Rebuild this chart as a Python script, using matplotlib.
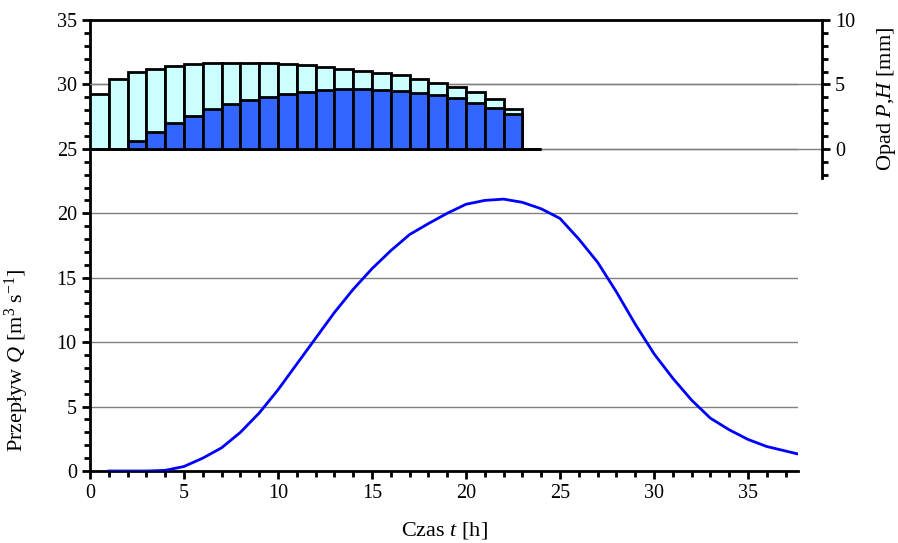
import numpy as np
import matplotlib
matplotlib.use('Agg')
import matplotlib.pyplot as plt
from matplotlib.ticker import MultipleLocator

plt.rcParams['font.family'] = ['Liberation Serif', 'DejaVu Serif']
plt.rcParams['mathtext.fontset'] = 'custom'
plt.rcParams['mathtext.rm'] = 'Liberation Serif'
plt.rcParams['mathtext.it'] = 'Liberation Serif:italic'

# opad calkowity P i efektywny H [mm], godziny 0-24
hours = np.arange(24)
opad_P = [4.24, 5.45, 5.94, 6.22, 6.43, 6.56, 6.64, 6.67, 6.67, 6.64, 6.59, 6.49,
          6.36, 6.22, 6.07, 5.92, 5.71, 5.43, 5.14, 4.78, 4.39, 3.85, 3.12, 0.0]
opad_H = [0.0, 0.0, 0.62, 1.32, 1.99, 2.58, 3.10, 3.49, 3.80, 4.06, 4.29, 4.44,
          4.55, 4.63, 4.63, 4.60, 4.50, 4.34, 4.19, 3.95, 3.59, 3.20, 2.69, 0.0]

# przeplyw Q [m3/s]
czas = [1, 2, 3, 4, 5, 6, 7, 8, 9, 10, 11, 12, 13, 14, 15, 16, 17, 18, 19, 20,
        21, 22, 23, 24, 25, 26, 27, 28, 29, 30, 31, 32, 33, 34, 35, 36, 37, 38]
przeplyw = [0.0, 0.0, 0.0, 0.05, 0.35, 1.0, 1.8, 3.0, 4.5, 6.3, 8.3, 10.3, 12.3,
            14.1, 15.7, 17.1, 18.35, 19.2, 20.0, 20.7, 21.0, 21.1, 20.85, 20.35,
            19.6, 18.0, 16.2, 13.9, 11.4, 9.1, 7.2, 5.5, 4.1, 3.2, 2.45, 1.9, 1.55, 1.2]

W, H = 898, 543
fig = plt.figure(figsize=(W / 100, H / 100), dpi=100)

x0, x1 = 90, 798
ax = fig.add_axes([x0 / W, (H - 471) / H, (x1 - x0) / W, (471 - 20) / H])
ax.plot(czas, przeplyw, color='#0000FF', lw=2, zorder=3)
ax.set_xlim(0, 37.66)
ax.set_ylim(0, 35)
ax.xaxis.set_major_locator(MultipleLocator(5))
ax.xaxis.set_minor_locator(MultipleLocator(1))
ax.yaxis.set_major_locator(MultipleLocator(5))
ax.yaxis.set_minor_locator(MultipleLocator(1))
ax.grid(axis='y', which='major', color='#808080', lw=1)
ax.set_axisbelow(True)
for s in ['top', 'right']:
    ax.spines[s].set_visible(False)
for s in ['left', 'bottom']:
    ax.spines[s].set_linewidth(2)
ax.tick_params(which='major', length=6, width=2, labelsize=14.5)
ax.tick_params(which='minor', length=4, width=2)
ax.set_xlabel('Czas $\\it{t}$ [h]', fontsize=16, labelpad=12)
ax.set_ylabel('Przepływ $\\it{Q}$ [m$^3$ s$^{-1}$]', fontsize=16)
ax.yaxis.set_label_coords(-0.083, 0.245)

# gorny panel - opad
xr = 822
ax2 = fig.add_axes([x0 / W, (H - 178) / H, (xr - x0) / W, (178 - 20) / H])
ax2.patch.set_visible(False)
ax2.bar(hours, opad_P, width=1, align='edge', color='#CCFFFF', edgecolor='black', lw=2, zorder=2)
ax2.bar(hours, opad_H, width=1, align='edge', color='#3366FF', edgecolor='black', lw=2, zorder=3)
ax2.set_xlim(0, (xr - x0) / ((x1 - x0) / 37.66))
ax2.set_ylim(-2.25, 10)
ax2.yaxis.set_major_locator(MultipleLocator(5))
ax2.yaxis.set_minor_locator(MultipleLocator(1))
ax2.grid(axis='y', which='major', color='#808080', lw=1)
ax2.set_axisbelow(True)
ax2.yaxis.tick_right()
ax2.yaxis.set_label_position('right')
ax2.set_xticks([])
for s in ['left', 'bottom']:
    ax2.spines[s].set_visible(False)
for s in ['top', 'right']:
    ax2.spines[s].set_linewidth(2)
ax2.tick_params(which='major', length=6, width=2, labelsize=14.5)
ax2.tick_params(which='minor', length=4, width=2)
ax2.set_ylabel('Opad $\\it{P}$,$\\it{H}$ [mm]', fontsize=16, labelpad=14)

fig.savefig('out.png', dpi=100)
